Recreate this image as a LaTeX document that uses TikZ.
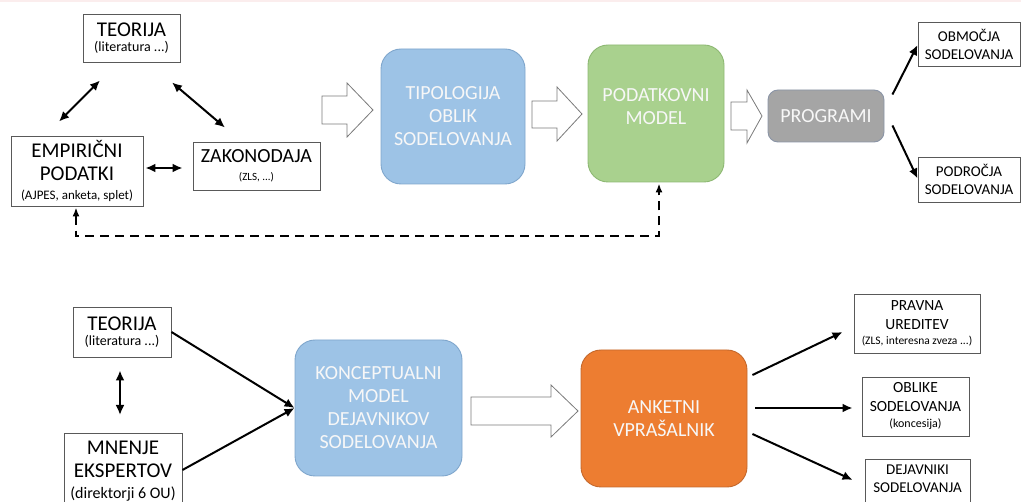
\documentclass[tikz,border=0pt]{standalone}
\usepackage{fontspec}
\setmainfont{Carlito}
\usetikzlibrary{arrows.meta,calc}
\definecolor{bluefill}{HTML}{9DC3E6}
\definecolor{blueline}{HTML}{7FA6CC}
\definecolor{greenfill}{HTML}{A9D18E}
\definecolor{greenline}{HTML}{8DB873}
\definecolor{grayfill}{HTML}{A5A5A5}
\definecolor{grayline}{HTML}{8A94A6}
\definecolor{orangefill}{HTML}{ED7D31}
\definecolor{orangeline}{HTML}{C4682C}
\definecolor{boxline}{HTML}{595959}
\definecolor{pinkstrip}{HTML}{FBEDED}
\definecolor{txtwhite}{HTML}{F7F7F7}
\newcommand{\fbig}{\fontsize{20}{23}\selectfont}
\newcommand{\fbigger}{\fontsize{21}{23}\selectfont}
\newcommand{\fmid}{\fontsize{15}{18}\selectfont}
\newcommand{\fmidsm}{\fontsize{15.5}{19}\selectfont}
\tikzset{
  plainbox/.style={draw=boxline, line width=0.9pt, fill=white, align=center, inner sep=0pt, text=black},
  roundbox/.style={line width=0.9pt, rounded corners=20pt, align=center, inner sep=0pt, text=txtwhite, font=\fbig},
  conn/.style={line width=2pt, -{Latex[length=10pt,width=9pt]}},
  dconn/.style={line width=2pt, {Latex[length=10pt,width=9pt]}-{Latex[length=10pt,width=9pt]}},
  dashconn/.style={line width=2pt, dash pattern=on 9pt off 6pt, {Latex[length=9pt,width=7pt]}-{Latex[length=9pt,width=7pt]}},
  blockarrow/.style={draw=boxline!80, line width=0.8pt, fill=white, line join=miter}
}
\begin{document}
\begin{tikzpicture}[x=1pt,y=-1pt]
\useasboundingbox (0,0) rectangle (1021,502);
\clip (0,0) rectangle (1021,502);
\fill[pinkstrip] (0,0) rectangle (1021,2.5);

% ---------- top part ----------
\node[plainbox, font=\fbigger, minimum width=97pt, minimum height=48pt] (teo) at (131.5,38)
  {TEORIJA\\[-8pt]{\fontsize{14}{17}\selectfont (literatura ...)}};
\node[plainbox, font=\fbigger, minimum width=132pt, minimum height=70pt] (emp) at (77,171)
  {EMPIRIČNI\\PODATKI\\[-4pt]{\fontsize{13}{15}\selectfont (AJPES, anketa, splet)}};
\node[plainbox, font=\fbig, minimum width=127pt, minimum height=48pt] (zak) at (256.5,166)
  {ZAKONODAJA\\[-5pt]{\fontsize{11}{13}\selectfont (ZLS, ...)}};

\node[roundbox, fill=bluefill, draw=blueline, minimum width=144pt, minimum height=135pt] (tip) at (453,116.5)
  {TIPOLOGIJA\\OBLIK\\SODELOVANJA};
\node[roundbox, fill=greenfill, draw=greenline, minimum width=136pt, minimum height=137pt] (pod) at (656,113.5)
  {PODATKOVNI\\MODEL\\[-10pt]\mbox{}};
\node[roundbox, fill=grayfill, draw=grayline, rounded corners=10pt, minimum width=116pt, minimum height=52pt] (prg) at (826,116)
  {PROGRAMI};
\node[plainbox, font=\fmid, minimum width=102pt, minimum height=44pt] (obm) at (969,44)
  {OBMOČJA\\SODELOVANJA};
\node[plainbox, font=\fmid, minimum width=102pt, minimum height=45pt] (pdr) at (969,179.5)
  {PODROČJA\\SODELOVANJA};

% block arrows (top)
\draw[blockarrow] (322,96) -- (347,96) -- (347,83) -- (373,110) -- (347,137) -- (347,124) -- (322,124) -- cycle;
\draw[blockarrow] (532,101) -- (557,101) -- (557,87) -- (582,114) -- (557,141) -- (557,128) -- (532,128) -- cycle;
\draw[blockarrow] (731,102) -- (747,102) -- (747,90) -- (762,116) -- (747,143) -- (747,130) -- (731,130) -- cycle;

% connectors (top)
\draw[dconn] ($(teo.south)+(-31.5,18)$) -- ($(emp.north)+(-18,-14)$);
\draw[dconn] ($(teo.south)+(40.5,20)$) -- ($(zak.north)+(-31.5,-14)$);
\draw[dconn] ($(emp.east)+(2,-3)$) -- ($(zak.west)+(-10,2)$);
\draw[dashconn] ($(emp.south)+(-1,1)$) |- ($(pod.south)+(3,54)$) -- ($(pod.south)+(3,1)$);
\draw[conn] ($(prg.north east)+(8,5)$) -- ($(obm.west)+(0,1)$);
\draw[conn] ($(prg.south east)+(8,-17)$) -- ($(pdr.west)+(0,-1)$);

% ---------- bottom part ----------
\node[plainbox, font=\fbigger, minimum width=98pt, minimum height=50pt] (teob) at (122,332)
  {TEORIJA\\[-8pt]{\fontsize{14}{17}\selectfont (literatura ...)}};
\node[plainbox, font=\fbigger, minimum width=118pt, minimum height=76pt, anchor=north] (mne) at (123,433)
  {MNENJE\\EKSPERTOV\\[-2pt]{\fontsize{16}{19}\selectfont (direktorji 6 OU)}};
\node[roundbox, fill=bluefill, draw=blueline, minimum width=167pt, minimum height=136pt] (kon) at (378.5,408)
  {KONCEPTUALNI\\MODEL\\DEJAVNIKOV\\SODELOVANJA};
\node[roundbox, fill=orangefill, draw=orangeline, minimum width=166pt, minimum height=137pt] (ank) at (664,418.5)
  {ANKETNI\\VPRAŠALNIK};
\node[plainbox, font=\fmidsm, minimum width=126pt, minimum height=59pt] (prv) at (917,323.5)
  {PRAVNA\\UREDITEV\\[-4pt]{\fontsize{11.5}{14}\selectfont (ZLS, interesna zveza ...)}};
\node[plainbox, font=\fmidsm, minimum width=107pt, minimum height=59pt] (obl) at (915.5,406.5)
  {OBLIKE\\SODELOVANJA\\[-3pt]{\fontsize{12}{14}\selectfont (koncesija)}};
\node[plainbox, font=\fmid, minimum width=105pt, minimum height=56pt, anchor=north] (dej) at (917.5,459)
  {DEJAVNIKI\\SODELOVANJA\\[-1pt]\mbox{}};

\draw[blockarrow] (471,397) -- (551,397) -- (551,385) -- (578,411) -- (551,437) -- (551,425) -- (471,425) -- cycle;

\draw[dconn] ($(teob.south)+(-2,13)$) -- ($(mne.north)+(-3,-18)$);
\draw[conn] (teob.east) -- (kon.west);
\draw[conn] ($(mne.north east)+(0,37)$) -- (kon.west);
\draw[conn] ($(ank.east)+(5,-43.5)$) -- ($(prv.west)+(-11,8.5)$);
\draw[conn] ($(ank.east)+(8,-10.5)$) -- ($(obl.west)+(-9,1.5)$);
\draw[conn] ($(ank.east)+(5,15.5)$) -- ($(dej.west)+(-12,-7.5)$);
\end{tikzpicture}
\end{document}
